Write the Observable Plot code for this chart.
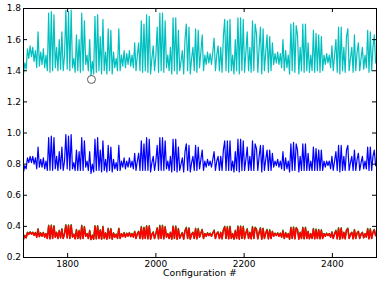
<!DOCTYPE html>
<html><head><meta charset="utf-8">
<script src="https://cdn.jsdelivr.net/npm/d3@7"></script>
<script src="https://cdn.jsdelivr.net/npm/@observablehq/plot@0.6"></script>
<style>body{margin:0;background:#fff}</style>
</head><body><div id="chart"></div>
<script>
const configStart = 1700, configStep = 3;
const cyanSeries = [
1.38,1.45,1.41,1.54,1.48,1.56,1.49,1.55,1.46,1.53,
1.42,1.65,1.43,1.52,1.44,1.54,1.42,1.50,1.40,1.77,
1.39,1.78,1.40,1.76,1.42,1.55,1.40,1.60,1.41,1.65,
1.40,1.50,1.79,1.41,1.78,1.40,1.79,1.42,1.48,1.39,
1.63,1.40,1.60,1.39,1.77,1.40,1.72,1.44,1.50,1.40,
1.60,1.37,1.46,1.38,1.75,1.39,1.76,1.40,1.62,1.38,
1.73,1.40,1.52,1.38,1.67,1.40,1.66,1.38,1.52,1.42,
1.48,1.40,1.67,1.40,1.50,1.43,1.53,1.42,1.51,1.44,
1.53,1.43,1.50,1.42,1.58,1.40,1.50,1.58,1.40,1.72,
1.39,1.70,1.40,1.76,1.39,1.75,1.38,1.48,1.56,1.40,
1.50,1.68,1.39,1.77,1.40,1.77,1.39,1.72,1.42,1.50,
1.40,1.55,1.38,1.74,1.40,1.74,1.38,1.66,1.40,1.46,
1.53,1.38,1.60,1.70,1.40,1.68,1.38,1.48,1.55,1.40,
1.67,1.39,1.66,1.42,1.52,1.63,1.40,1.50,1.44,1.52,
1.45,1.51,1.44,1.52,1.61,1.40,1.50,1.56,1.40,1.55,
1.39,1.62,1.73,1.40,1.72,1.39,1.73,1.40,1.50,1.38,
1.60,1.40,1.74,1.38,1.74,1.40,1.73,1.39,1.52,1.65,
1.40,1.55,1.39,1.72,1.40,1.70,1.64,1.39,1.55,1.68,
1.38,1.67,1.40,1.52,1.63,1.39,1.62,1.40,1.58,1.44,
1.51,1.45,1.52,1.44,1.51,1.42,1.60,1.40,1.53,1.42,
1.50,1.38,1.70,1.40,1.71,1.39,1.69,1.63,1.38,1.55,
1.40,1.70,1.39,1.70,1.40,1.58,1.39,1.50,1.40,1.66,
1.39,1.64,1.40,1.63,1.39,1.62,1.40,1.50,1.44,1.51,
1.45,1.50,1.42,1.56,1.40,1.50,1.60,1.39,1.68,1.38,
1.68,1.40,1.55,1.39,1.62,1.67,1.40,1.48,1.55,1.39,
1.63,1.40,1.52,1.58,1.40,1.48,1.55,1.41,1.50,1.42,
1.66,1.39,1.65,1.40,1.55,1.63,1.45];
const blueSeries = [
.75,.79,.77,.84,.81,.85,.81,.85,.80,.84,
.77,.91,.78,.83,.78,.84,.77,.82,.76,.97,
.76,.98,.76,.97,.77,.85,.76,.88,.77,.91,
.76,.82,.99,.77,.98,.76,.99,.77,.81,.76,
.89,.76,.88,.76,.97,.76,.95,.78,.82,.76,
.88,.74,.80,.75,.96,.76,.97,.76,.89,.75,
.95,.76,.83,.75,.92,.76,.91,.75,.83,.77,
.81,.76,.92,.76,.82,.78,.84,.77,.82,.78,
.84,.78,.82,.77,.87,.76,.82,.87,.76,.95,
.76,.93,.76,.97,.76,.96,.75,.81,.85,.76,
.82,.92,.76,.97,.76,.97,.76,.95,.77,.82,
.76,.85,.75,.96,.76,.96,.75,.91,.76,.80,
.84,.75,.88,.93,.76,.92,.75,.81,.85,.76,
.92,.76,.91,.77,.83,.89,.76,.82,.78,.83,
.79,.82,.78,.83,.88,.76,.82,.85,.76,.85,
.76,.89,.95,.76,.95,.76,.95,.76,.82,.75,
.88,.76,.96,.75,.96,.76,.95,.76,.83,.91,
.76,.85,.76,.95,.76,.93,.90,.76,.85,.92,
.75,.92,.76,.83,.89,.76,.89,.76,.87,.78,
.82,.79,.83,.78,.82,.77,.88,.76,.84,.77,
.82,.75,.93,.76,.94,.76,.93,.89,.75,.85,
.76,.93,.76,.93,.76,.87,.76,.82,.76,.91,
.76,.90,.76,.89,.76,.89,.76,.82,.78,.82,
.79,.82,.77,.85,.76,.82,.88,.76,.92,.75,
.92,.76,.85,.76,.89,.92,.76,.81,.85,.76,
.89,.76,.83,.87,.76,.81,.85,.77,.82,.77,
.91,.76,.91,.76,.85,.89,.79];
const greenSeries = [
.319,.343,.327,.362,.351,.365,.353,.363,.345,.361,
.333,.385,.336,.359,.339,.362,.333,.355,.323,.407,
.321,.409,.323,.405,.333,.363,.323,.375,.327,.385,
.323,.355,.411,.327,.409,.323,.411,.333,.351,.321,
.381,.323,.375,.321,.407,.323,.399,.339,.355,.323,
.375,.316,.345,.319,.405,.321,.405,.323,.379,.319,
.401,.323,.359,.319,.389,.323,.387,.319,.359,.333,
.351,.323,.389,.323,.355,.336,.361,.333,.357,.339,
.361,.336,.355,.333,.369,.323,.355,.369,.323,.399,
.321,.395,.323,.405,.321,.405,.319,.351,.365,.323,
.355,.391,.321,.407,.323,.407,.321,.399,.333,.355,
.323,.363,.319,.403,.323,.403,.319,.387,.323,.345,
.361,.319,.375,.395,.323,.391,.319,.351,.363,.323,
.389,.321,.387,.333,.359,.381,.323,.355,.339,.359,
.343,.357,.339,.359,.377,.323,.355,.365,.323,.363,
.321,.379,.401,.323,.399,.321,.401,.323,.355,.319,
.375,.323,.403,.319,.403,.323,.401,.321,.359,.385,
.323,.363,.321,.399,.323,.395,.383,.321,.363,.391,
.319,.389,.323,.359,.381,.321,.379,.323,.369,.339,
.357,.343,.359,.339,.357,.333,.375,.323,.361,.333,
.355,.319,.395,.323,.397,.321,.393,.381,.319,.363,
.323,.395,.321,.395,.323,.369,.321,.355,.323,.387,
.321,.383,.323,.381,.321,.379,.323,.355,.339,.357,
.343,.355,.333,.365,.323,.355,.375,.321,.391,.319,
.391,.323,.363,.321,.379,.389,.323,.351,.363,.321,
.381,.323,.359,.369,.323,.351,.363,.327,.355,.333,
.387,.321,.385,.323,.363,.381,.343];
const redSeries = [
.318,.340,.326,.359,.348,.362,.350,.360,.342,.358,
.330,.380,.333,.356,.336,.359,.330,.352,.322,.402,
.320,.404,.322,.400,.330,.360,.322,.370,.326,.380,
.322,.352,.406,.326,.404,.322,.406,.330,.348,.320,
.376,.322,.370,.320,.402,.322,.394,.336,.352,.322,
.370,.315,.342,.318,.400,.320,.400,.322,.374,.318,
.396,.322,.356,.318,.384,.322,.382,.318,.356,.330,
.348,.322,.384,.322,.352,.333,.358,.330,.354,.336,
.358,.333,.352,.330,.366,.322,.352,.366,.322,.394,
.320,.390,.322,.400,.320,.400,.318,.348,.362,.322,
.352,.386,.320,.402,.322,.402,.320,.394,.330,.352,
.322,.360,.318,.398,.322,.398,.318,.382,.322,.342,
.358,.318,.370,.390,.322,.386,.318,.348,.360,.322,
.384,.320,.382,.330,.356,.376,.322,.352,.336,.356,
.340,.354,.336,.356,.372,.322,.352,.362,.322,.360,
.320,.374,.396,.322,.394,.320,.396,.322,.352,.318,
.370,.322,.398,.318,.398,.322,.396,.320,.356,.380,
.322,.360,.320,.394,.322,.390,.378,.320,.360,.386,
.318,.384,.322,.356,.376,.320,.374,.322,.366,.336,
.354,.340,.356,.336,.354,.330,.370,.322,.358,.330,
.352,.318,.390,.322,.392,.320,.388,.376,.318,.360,
.322,.390,.320,.390,.322,.366,.320,.352,.322,.382,
.320,.378,.322,.376,.320,.374,.322,.352,.336,.354,
.340,.352,.330,.362,.322,.352,.370,.320,.386,.318,
.386,.322,.360,.320,.374,.384,.322,.348,.360,.320,
.376,.322,.356,.366,.322,.348,.360,.326,.352,.330,
.382,.320,.380,.322,.360,.376,.340];
const xTicks = [1800, 2000, 2200, 2400];
const yTicks = [0.2, 0.4, 0.6, 0.8, 1.0, 1.2, 1.4, 1.6, 1.8];
const markerX = [1854];
const markerY = [1.344];
const xLabel = "Configuration #";

const rows = vals => vals.map((v, i) => ({x: configStart + configStep * i, y: v}));
const W = 387, H = 300, mL = 23, mR = 11, mT = 8, mB = 43;
const plotW = W - mL - mR, plotH = H - mT - mB, tick = 4;

const chart = Plot.plot({
  width: W, height: H,
  marginLeft: mL, marginRight: mR, marginTop: mT, marginBottom: mB,
  x: {domain: [1700, 2500]},
  y: {domain: [0.2, 1.8]},
  style: {fontFamily: "DejaVu Sans", fontSize: "9px", background: "white", color: "black"},
  marks: [
    Plot.line(rows(cyanSeries), {x: "x", y: "y", stroke: "#00bfbf", strokeWidth: 1.2}),
    Plot.line(rows(blueSeries), {x: "x", y: "y", stroke: "#0000ff", strokeWidth: 1.2}),
    Plot.line(rows(greenSeries), {x: "x", y: "y", stroke: "#008000", strokeWidth: 1.4}),
    Plot.line(rows(redSeries), {x: "x", y: "y", stroke: "#ff0000", strokeWidth: 1.5}),
    Plot.dot(markerX.map((x, i) => ({x, y: markerY[i]})), {x: "x", y: "y", r: 4, stroke: "#333", fill: "none", strokeWidth: 0.8}),
    Plot.frame({stroke: "black"}),
    Plot.tickX(xTicks, {x: d => d, insetTop: plotH - tick}),
    Plot.tickX(xTicks, {x: d => d, insetBottom: plotH - tick}),
    Plot.tickY(yTicks, {y: d => d, insetRight: plotW - tick}),
    Plot.tickY(yTicks, {y: d => d, insetLeft: plotW - tick}),
    Plot.axisX({ticks: xTicks, tickSize: 0, tickPadding: 3, label: null, tickFormat: d3.format("d")}),
    Plot.axisY({ticks: yTicks, tickSize: 0, tickPadding: 2.5, label: null, tickFormat: d3.format(".1f")}),
    Plot.text([xLabel], {frameAnchor: "bottom", dy: 18, text: d => d, fontSize: 9.3})
  ]
});
document.getElementById("chart").appendChild(chart);
</script>
</body></html>
